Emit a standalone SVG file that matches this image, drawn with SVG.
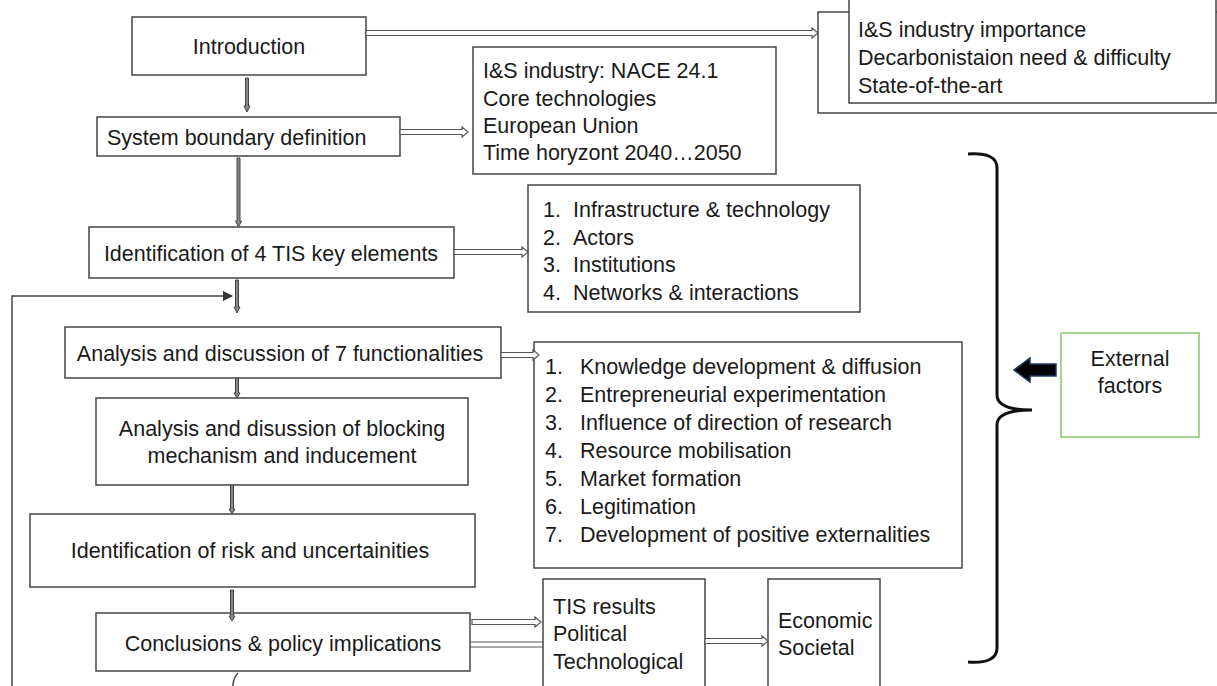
<svg xmlns="http://www.w3.org/2000/svg" width="1217" height="686" viewBox="0 0 1217 686">
<style>
.box{fill:#fff;stroke:#444;stroke-width:1.5}
.t{font-family:"Liberation Sans",Arial,sans-serif;font-size:21.5px;fill:#1a1a1a}
.c{text-anchor:middle}
.ha{fill:#fff;stroke:#555;stroke-width:1.2}
.va{fill:#888;stroke:#444;stroke-width:1}
.ln{fill:none;stroke:#444;stroke-width:1.5}
</style>
<defs>
<marker id="tri" viewBox="0 0 10 10" refX="9" refY="5" markerWidth="7" markerHeight="7" orient="auto"><path d="M0,0 L10,5 L0,10 Z" fill="#333"/></marker>
</defs>
<rect width="1217" height="686" fill="#fff"/>
<g id="intro"><rect class="box" x="132" y="17" width="234" height="58"/><text class="t c" x="249" y="54">Introduction</text></g>
<g id="intro-detail">
<rect class="box" x="818" y="12" width="410" height="101"/>
<rect class="box" x="849" y="-2" width="367" height="105"/>
<text class="t" x="858" y="37">I&amp;S industry importance</text>
<text class="t" x="858" y="65">Decarbonistaion need &amp; difficulty</text>
<text class="t" x="858" y="93">State-of-the-art</text>
</g>
<g id="boundary"><rect class="box" x="97" y="117" width="303" height="39"/><text class="t" x="107" y="145">System boundary definition</text></g>
<g id="boundary-detail">
<rect class="box" x="473" y="47" width="303" height="127"/>
<text class="t" x="483" y="78">I&amp;S industry: NACE 24.1</text>
<text class="t" x="483" y="106">Core technologies</text>
<text class="t" x="483" y="133">European Union</text>
<text class="t" x="483" y="160">Time horyzont 2040…2050</text>
</g>
<g id="key-elements"><rect class="box" x="89" y="227" width="365" height="51"/><text class="t c" x="271" y="261">Identification of 4 TIS key elements</text></g>
<g id="elements-list">
<rect class="box" x="528" y="185" width="332" height="127"/>
<text class="t" x="543" y="217">1.</text><text class="t" x="573" y="217">Infrastructure &amp; technology</text>
<text class="t" x="543" y="245">2.</text><text class="t" x="573" y="245">Actors</text>
<text class="t" x="543" y="272">3.</text><text class="t" x="573" y="272">Institutions</text>
<text class="t" x="543" y="300">4.</text><text class="t" x="573" y="300">Networks &amp; interactions</text>
</g>
<g id="functionalities"><rect class="box" x="65" y="327" width="436" height="51"/><text class="t c" x="280" y="361">Analysis and discussion of 7 functionalities</text></g>
<g id="functions-list">
<rect class="box" x="534" y="342" width="428" height="226"/>
<text class="t" x="545" y="374">1.</text><text class="t" x="580" y="374">Knowledge development &amp; diffusion</text>
<text class="t" x="545" y="402">2.</text><text class="t" x="580" y="402">Entrepreneurial experimentation</text>
<text class="t" x="545" y="430">3.</text><text class="t" x="580" y="430">Influence of direction of research</text>
<text class="t" x="545" y="458">4.</text><text class="t" x="580" y="458">Resource mobilisation</text>
<text class="t" x="545" y="486">5.</text><text class="t" x="580" y="486">Market formation</text>
<text class="t" x="545" y="514">6.</text><text class="t" x="580" y="514">Legitimation</text>
<text class="t" x="545" y="542">7.</text><text class="t" x="580" y="542">Development of positive externalities</text>
</g>
<g id="blocking"><rect class="box" x="96" y="398" width="372" height="87"/>
<text class="t c" x="282" y="436">Analysis and disussion of blocking</text>
<text class="t c" x="282" y="463">mechanism and inducement</text></g>
<g id="risk"><rect class="box" x="30" y="514" width="445" height="73"/><text class="t c" x="250" y="558">Identification of risk and uncertainities</text></g>
<g id="conclusions"><rect class="box" x="96" y="613" width="374" height="58"/><text class="t c" x="283" y="651">Conclusions &amp; policy implications</text></g>
<g id="tis-results"><rect class="box" x="543" y="579" width="162" height="120"/>
<text class="t" x="553" y="614">TIS results</text>
<text class="t" x="553" y="641">Political</text>
<text class="t" x="553" y="669">Technological</text></g>
<g id="impact"><rect class="box" x="768" y="579" width="112" height="120"/>
<text class="t" x="778" y="628">Economic</text>
<text class="t" x="778" y="655">Societal</text></g>
<g id="external"><rect x="1061" y="333" width="138" height="104" fill="#fff" stroke="#8cc56a" stroke-width="1.5"/>
<text class="t c" x="1130" y="366">External</text>
<text class="t c" x="1130" y="393">factors</text></g>
<g id="connectors">
<path class="ha" d="M366,30.5 L812,30.5 L812,28 L818,33 L812,38 L812,35.5 L366,35.5 Z"/>
<path class="ha" d="M400,129.5 L462,129.5 L462,127 L468,132 L462,137 L462,134.5 L400,134.5 Z"/>
<path class="ha" d="M454,249.5 L522,249.5 L522,247 L528,252 L522,257 L522,254.5 L454,254.5 Z"/>
<path class="ha" d="M501,352.5 L533,352.5 L533,350 L539,355 L533,360 L533,357.5 L501,357.5 Z"/>
<path class="ha" d="M472,619.5 L535,619.5 L535,617 L541,622 L535,627 L535,624.5 L472,624.5 Z"/>
<path class="ha" d="M470,642 L543,642 M470,647 L543,647"/>
<path class="ha" d="M705,638.5 L762,638.5 L762,636 L768,641 L762,646 L762,643.5 L705,643.5 Z"/>
<path class="va" d="M245.5,78 L245.5,106 L244,106 L247,112 L250,106 L248.5,106 L248.5,78 Z"/>
<path class="va" d="M237,158 L237,221 L235.5,221 L238.5,227 L241.5,221 L240,221 L240,158 Z"/>
<path class="va" d="M235.5,280 L235.5,307 L234,307 L237,313 L240,307 L238.5,307 L238.5,280 Z"/>
<path class="va" d="M235.5,378 L235.5,393 L234,393 L237,398 L240,393 L238.5,393 L238.5,378 Z"/>
<path class="va" d="M230.5,485 L230.5,509 L229,509 L232,514 L235,509 L233.5,509 L233.5,485 Z"/>
<path class="va" d="M230.5,590 L230.5,616 L229,616 L232,621 L235,616 L233.5,616 L233.5,590 Z"/>
<path class="ln" d="M12,686 L12,296 L232,296" marker-end="url(#tri)"/>
<path class="ln" d="M238,673 Q233,678 233,686"/>
<path d="M968,154 Q997,152 997,168 L997,395 Q997,410 1032,410 Q997,410 997,425 L997,648 Q997,664 968,662" fill="none" stroke="#111" stroke-width="3"/>
<path d="M1056,364 L1030,364 L1030,358 L1014,370 L1030,382 L1030,376 L1056,376 Z" fill="#000" stroke="#1f3864" stroke-width="1.5"/>
</g>
</svg>
